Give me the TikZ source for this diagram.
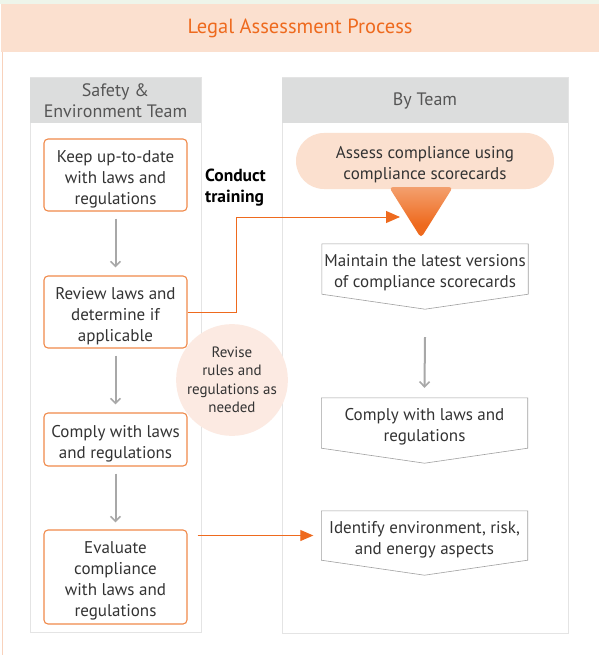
\documentclass[tikz,border=0pt]{standalone}
\usepackage{fontspec}
\setmainfont{PT Sans}
\usetikzlibrary{arrows.meta,shapes.misc,calc}
\definecolor{peach}{HTML}{FBE0CF}
\definecolor{orng}{HTML}{EE6A1E}
\definecolor{boxorng}{HTML}{F08A4B}
\definecolor{hdrgray}{HTML}{DCDDDD}
\definecolor{colline}{HTML}{E4E4E4}
\definecolor{txt}{HTML}{333333}
\definecolor{hdrtxt}{HTML}{555555}
\definecolor{arrgray}{HTML}{A8A8A8}
\definecolor{greenband}{HTML}{EEF5EA}
\definecolor{circfill}{HTML}{FCEAE2}
\definecolor{sideline}{HTML}{F8D2BC}
\definecolor{trilight}{HTML}{F7C4A4}
\definecolor{pentline}{HTML}{A0A0A0}
\pgfdeclareverticalshading{trishade}{100bp}{color(0bp)=(orng); color(38bp)=(orng); color(100bp)=(trilight)}
\newcommand\lowtxt[2]{\parbox{#1}{\centering\vspace*{8pt}#2}}
\tikzset{
  lbox/.style={draw=boxorng, line width=1.1pt, rounded corners=4pt, fill=white,
    minimum width=143pt, align=center, inner sep=0pt,
    font=\fontsize{17}{21}\selectfont, text=txt},
  garrow/.style={draw=arrgray, line width=2pt, -{Straight Barb[length=5pt,width=10pt,line width=1.6pt]}},
  oline/.style={draw=orng, line width=1pt},
  oarrow/.style={oline, -{Triangle[length=14pt,width=12pt]}},
  ptext/.style={minimum width=206pt, align=center, inner sep=0pt,
    font=\fontsize{17}{21}\selectfont, text=txt},
  pent/.style={draw=pentline, line width=0.6pt, fill=white},
  hdr/.style={font=\fontsize{18}{21}\selectfont, text=hdrtxt, align=center}
}
\begin{document}
\begin{tikzpicture}[x=1pt,y=-1pt]
\useasboundingbox (0,0) rectangle (599,655);
\fill[white] (0,0) rectangle (599,655);
\fill[greenband] (0,0) rectangle (599,4);
\fill[peach] (1,4) rectangle (599,52);
\draw[sideline, line width=1pt] (2.5,52) -- (2.5,655);
\node[text=orng, font=\fontsize{20.5}{24}\selectfont] (title) at (300,28.5) {Legal Assessment Process};

% columns
\draw[colline, line width=1pt, fill=white] (30,78) rectangle (201,632);
\fill[hdrgray] (30,78) rectangle (201,123);
\node[hdr] (lhdr) at (115.5,100.5) {Safety \&\\Environment Team};
\draw[colline, line width=1pt, fill=white] (282,78) rectangle (568,633);
\fill[hdrgray] (282,78) rectangle (568,123);
\node[hdr] (rhdr) at (425,101) {By Team};

% left boxes
\node[lbox, minimum height=72pt] (b1) at (115.5,175) {\lowtxt{140pt}{Keep up-to-date\\with laws and\\regulations}};
\node[lbox, minimum height=72pt] (b2) at (115.5,312) {\lowtxt{140pt}{Review laws and\\determine if\\applicable}};
\node[lbox, minimum height=53pt] (b3) at (115.5,439.5) {\lowtxt{140pt}{Comply with laws\\and regulations}};
\node[lbox, minimum height=94pt] (b4) at (115.5,577) {\lowtxt{140pt}{Evaluate\\compliance\\with laws and\\regulations}};

\draw[garrow, shorten <=7pt, shorten >=8pt] (b1) -- (b2);
\draw[garrow, shorten <=7pt, shorten >=8pt] (b2) -- (b3);
\draw[garrow, shorten <=7pt, shorten >=7pt] (b3) -- (b4);

% circle
\node[circle, fill=circfill, minimum size=96pt, inner sep=0pt, align=center,
  font=\fontsize{15}{18.5}\selectfont, text=txt] (rev) at (232,380)
  {Revise\\rules and\\regulations as\\needed};

% conduct training
\node[anchor=north west, align=left, inner sep=0pt, font=\bfseries\fontsize{17.5}{21}\selectfont, text=black]
  (ct) at (205,169) {Conduct\\training};

% right side
\node[rounded rectangle, fill=peach, minimum width=258pt, minimum height=56pt, inner sep=0pt,
  align=center, font=\fontsize{17}{21}\selectfont, text=txt] (pill) at (425,161)
  {\lowtxt{200pt}{Assess compliance using\\compliance scorecards}};
\shade[shading=trishade, rounded corners=4pt] (389,187) -- (453,187) -- (421,238) -- cycle;
\coordinate (tip) at (400,217);
\coordinate (bend) at (236,217);
\draw[oarrow] (b2.east) -| (bend) -- (tip);

\node[ptext, minimum height=50pt] (m) at (425,269) {};
\node[ptext, minimum height=50pt] (c) at (424.5,423) {};
\node[ptext, minimum height=49pt] (i) at (424.5,535.5) {};
\foreach \n in {m,c,i}{
  \draw[pent] (\n.north west) -- (\n.north east) -- (\n.south east) -- ($(\n.south)+(0,15)$) -- (\n.south west) -- cycle;
}
\node[ptext] (mt) at (m) {\lowtxt{206pt}{Maintain the latest versions\\of compliance scorecards}};
\node[ptext] (cti) at (c) {\lowtxt{206pt}{Comply with laws and\\regulations}};
\node[ptext] (it) at (i) {\lowtxt{206pt}{Identify environment, risk,\\and energy aspects}};

\draw[garrow] ($(m.south)+(0,43)$) -- ($(c.north)+(0,-10)$);
\draw[oline, -{Triangle[length=13pt,width=11pt]}] ([xshift=10pt]b4.east |- i.west) -- ([xshift=-8pt]i.west);
\end{tikzpicture}
\end{document}
